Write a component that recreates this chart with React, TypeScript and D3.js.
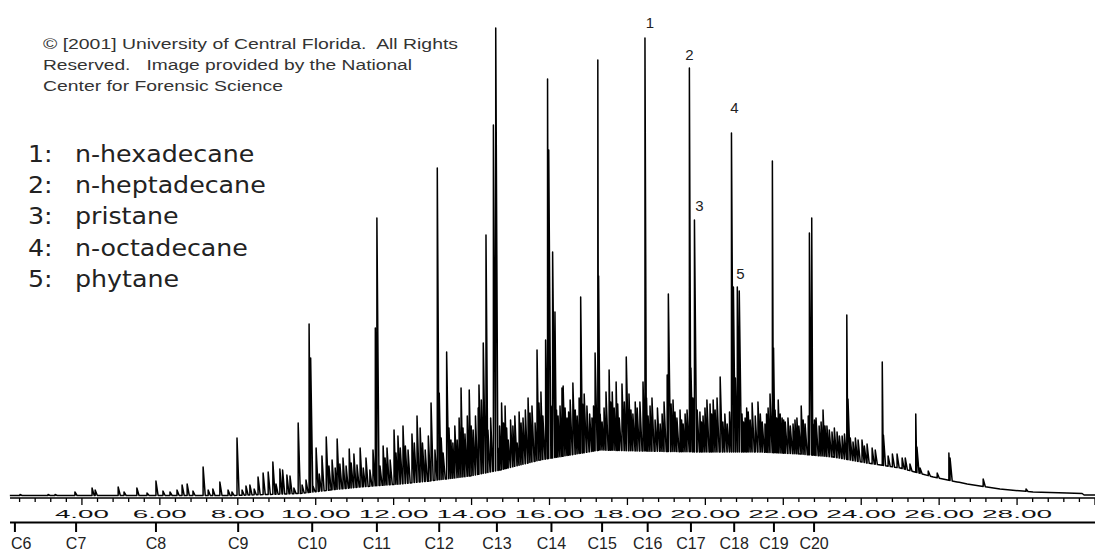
import React from "react";
import * as d3 from "d3";

const W = 1095;
const H = 552;

// detector baseline: retention time (min) and level
const baseTime = [2.15, 7.8, 8.31, 9.6, 10.37, 11.14, 12.16, 12.93, 13.96, 14.73, 15.76, 17.3, 18.32, 19.86, 21.4, 22.43, 23.28, 24.15, 25.0, 25.85, 26.72, 27.56, 28.41, 29.28, 29.67, 29.72, 30.0];
const baseLevel = [2.5, 2.5, 3, 4.5, 8, 11, 14, 17, 22, 28, 38, 48, 47, 46, 46, 44, 41, 35, 30, 21, 14, 9, 6, 5, 4.5, 3, 3];

// peaks: retention time (min) and apex abundance
const peakTime = [
  2.41, 3.13, 3.31, 3.82, 4.26, 4.34, 4.93, 5.08, 5.41, 5.67, 5.9, 6.08, 6.26, 6.44, 6.57, 6.7, 6.85, 7.11, 7.24, 7.36, 7.54, 7.75,
  7.85, 7.98, 8.11, 8.21, 8.31, 8.42, 8.52, 8.65, 8.78, 8.9, 8.98, 9.08, 9.15, 9.26, 9.34, 9.44, 9.55, 9.65, 9.75, 9.83, 9.87, 9.93,
  10.01, 10.09, 10.16, 10.27, 10.34, 10.42, 10.5, 10.55, 10.62, 10.7, 10.78, 10.86, 10.91, 10.98, 11.06, 11.14, 11.22, 11.29, 11.39,
  11.47, 11.53, 11.57, 11.65, 11.73, 11.78, 11.83, 11.91, 12.01, 12.06, 12.11, 12.17, 12.24, 12.3, 12.37, 12.47, 12.53, 12.6, 12.68,
  12.74, 12.81, 12.89, 12.96, 13.06, 13.12, 13.17, 13.22, 13.27, 13.36, 13.42, 13.47, 13.52, 13.57, 13.63, 13.68, 13.73, 13.78, 13.83,
  13.89, 13.94, 13.99, 14.04, 14.1, 14.17, 14.19, 14.25, 14.3, 14.37, 14.42, 14.49, 14.56, 14.62, 14.68, 14.72, 14.77, 14.82, 14.86,
  14.9, 14.94, 15.0, 15.06, 15.11, 15.17, 15.22, 15.27, 15.32, 15.38, 15.45, 15.5, 15.55, 15.63, 15.68, 15.73, 15.78, 15.83, 15.9,
  15.95, 15.98, 16.04, 16.08, 16.14, 16.18, 16.22, 16.27, 16.32, 16.35, 16.4, 16.45, 16.49, 16.53, 16.6, 16.66, 16.71, 16.76, 16.8,
  16.85, 16.89, 16.96, 17.03, 17.09, 17.13, 17.17, 17.24, 17.26, 17.3, 17.35, 17.4, 17.45, 17.53, 17.57, 17.61, 17.66, 17.71, 17.75,
  17.79, 17.86, 17.92, 17.97, 18.04, 18.09, 18.14, 18.2, 18.25, 18.32, 18.4, 18.45, 18.49, 18.53, 18.58, 18.63, 18.71, 18.77, 18.84,
  18.89, 18.94, 19.02, 19.05, 19.12, 19.17, 19.22, 19.27, 19.35, 19.39, 19.43, 19.48, 19.53, 19.59, 19.63, 19.68, 19.72, 19.79, 19.86,
  19.9, 19.94, 19.99, 20.04, 20.12, 20.16, 20.2, 20.25, 20.3, 20.38, 20.45, 20.5, 20.56, 20.62, 20.67, 20.72, 20.77, 20.82, 20.87,
  20.94, 20.98, 21.02, 21.06, 21.1, 21.15, 21.2, 21.28, 21.35, 21.41, 21.46, 21.53, 21.57, 21.61, 21.66, 21.72, 21.75, 21.79, 21.83,
  21.87, 21.92, 21.97, 22.01, 22.05, 22.12, 22.18, 22.25, 22.3, 22.35, 22.4, 22.46, 22.51, 22.56, 22.64, 22.67, 22.73, 22.76, 22.8,
  22.84, 22.92, 22.97, 23.02, 23.07, 23.12, 23.18, 23.25, 23.31, 23.38, 23.44, 23.51, 23.57, 23.63, 23.66, 23.72, 23.79, 23.85, 23.92,
  24.02, 24.08, 24.15, 24.28, 24.36, 24.54, 24.57, 24.69, 24.8, 24.92, 25.05, 25.13, 25.25, 25.4, 25.43, 25.51, 25.72, 25.95, 26.25,
  26.28, 26.46, 27.13, 28.23,
];
const peakApex = [
  3.5, 3.5, 3.5, 6, 10, 8, 11, 6, 10, 5, 17, 7, 6, 8, 13, 14, 7, 31, 8, 9, 16, 8,
  6, 60, 8, 12, 13, 9, 21, 25, 26, 36, 14, 29, 28, 23, 22, 10, 75, 13, 18, 174, 140, 12,
  50, 24, 42, 61, 32, 38, 30, 59, 34, 40, 32, 49, 35, 44, 33, 50, 30, 40, 28,
  48, 170, 280, 32, 52, 40, 50, 38, 68, 45, 62, 50, 72, 52, 48, 64, 55, 82, 70,
  55, 48, 62, 95, 48, 330, 105, 60, 45, 146, 70, 58, 55, 72, 58, 80, 110, 70, 64,
  82, 108, 72, 68, 82, 90, 113, 98, 155, 263, 68, 80, 373, 470, 50, 72, 95, 75, 92,
  70, 58, 78, 72, 82, 55, 86, 75, 80, 88, 100, 85, 92, 75, 148, 95, 106, 82, 158,
  419, 348, 92, 246, 186, 88, 82, 92, 110, 112, 90, 80, 86, 98, 115, 88, 82, 100, 201,
  94, 104, 92, 84, 80, 92, 145, 438, 222, 84, 76, 90, 106, 128, 96, 106, 90, 116, 94,
  80, 114, 96, 141, 104, 88, 84, 96, 90, 96, 116, 460, 100, 82, 92, 100, 78, 90, 74,
  84, 96, 123, 204, 94, 98, 86, 80, 88, 78, 74, 84, 88, 430, 130, 100, 278, 88, 86,
  76, 82, 90, 98, 94, 84, 98, 88, 100, 121, 76, 84, 74, 86, 365, 211, 120, 211, 207,
  84, 76, 80, 90, 86, 78, 95, 82, 96, 84, 76, 74, 84, 90, 104, 337, 150, 88, 80,
  98, 84, 80, 78, 76, 80, 72, 74, 78, 80, 72, 92, 78, 74, 82, 265, 280, 74, 78,
  80, 72, 76, 88, 72, 72, 68, 66, 70, 66, 62, 62, 64, 183, 99, 60, 56, 60, 58,
  58, 52, 54, 50, 48, 136, 63, 42, 44, 44, 40, 40, 34, 84, 51, 30, 27, 25, 45,
  40, 16, 19, 9,
];

const timeLabels = [4, 6, 8, 10, 12, 14, 16, 18, 20, 22, 24, 26, 28];
const carbonNames = ["C6", "C7", "C8", "C9", "C10", "C11", "C12", "C13", "C14", "C15", "C16", "C17", "C18", "C19", "C20"];
const carbonTime = [2.28, 3.85, 5.9, 8.01, 9.91, 11.57, 13.17, 14.65, 16.05, 17.35, 18.52, 19.63, 20.74, 21.76, 22.79];

const compoundNo = ["1", "2", "3", "4", "5"];
const compoundName = ["n-hexadecane", "n-heptadecane", "pristane", "n-octadecane", "phytane"];
const compoundTime = [18.45, 19.59, 19.72, 20.67, 20.82];

const credit = [
  "\u00a9 [2001] University of Central Florida.  All Rights",
  "Reserved.   Image provided by the National",
  "Center for Forensic Science",
];

const x = d3.scaleLinear().domain([2, 30]).range([4, 1095]);
const y = d3.scaleLinear().domain([0, 480]).range([498, 18]);
const base = d3.scaleLinear().domain(baseTime).range(baseLevel).clamp(true);

// each peak rises sharply and tails off for at most this long (min)
const TAIL = 0.055;

function tracePath() {
  const events: { t: number; pts: [number, number][] }[] = [];
  baseTime.forEach((t, i) => events.push({ t, pts: [[t, baseLevel[i]]] }));
  peakTime.forEach((t, i) => {
    const b = base(t);
    const top = Math.max(b, peakApex[i]);
    const next = i + 1 < peakTime.length ? peakTime[i + 1] : t + TAIL;
    const end = Math.min(t + TAIL, next - 0.004);
    events.push({ t, pts: [[t, b], [t, top], [end, base(end)]] });
  });
  events.sort((a, b) => a.t - b.t);
  const pts = events.flatMap((e) => e.pts);
  const line = d3.line<[number, number]>().x((d) => x(d[0])).y((d) => y(d[1]));
  return line(pts) || "";
}

// small nudges for the peak numbers
const labelDx = [5, 0, 5, 3, 3];
const labelDy = [10, 8, 9, 20, 8];

export default function App() {
  const trace = tracePath();
  const ticks = d3.range(2, 30.001, 0.4).filter((t) => x(t) > 9);
  const apexOf = (t: number) => peakApex[peakTime.indexOf(t)];

  return (
    <svg
      width={W}
      height={H}
      style={{ position: "absolute", left: 0, top: 0, background: "#fff" }}
    >
      {/* credit */}
      <g fontFamily="'Liberation Sans', Arial, sans-serif" fontSize={14} fill="#333">
        {credit.map((s, i) => (
          <text
            key={i}
            x={43}
            y={49 + i * 21}
            textLength={[415, 369, 240][i]}
            lengthAdjust="spacingAndGlyphs"
            style={{ whiteSpace: "pre" }}
          >
            {s}
          </text>
        ))}
      </g>

      {/* legend */}
      <g transform="translate(28,0) scale(1.1,1)" fontFamily="'DejaVu Sans', sans-serif" fontSize={23} fill="#222">
        {compoundName.map((n, i) => (
          <g key={n}>
            <text x={0} y={162 + i * 31.25}>{compoundNo[i] + ":"}</text>
            <text x={42.7} y={162 + i * 31.25}>{n}</text>
          </g>
        ))}
      </g>

      {/* chromatogram trace */}
      <path d={trace} fill="none" stroke="#000" strokeWidth={1.5} strokeLinejoin="round" />

      {/* peak numbers */}
      <g fontFamily="'Liberation Sans', Arial, sans-serif" fontSize={15} fill="#222" textAnchor="middle">
        {compoundTime.map((t, i) => (
          <text key={i} x={x(t) + labelDx[i]} y={y(apexOf(t)) - labelDy[i]}>
            {compoundNo[i]}
          </text>
        ))}
      </g>

      {/* time axis */}
      <line x1={10} x2={W} y1={498} y2={498} stroke="#000" strokeWidth={1.4} />
      {ticks.map((t, i) => {
        const major = Math.abs(t - Math.round(t)) < 1e-6 && Math.round(t) % 2 === 0;
        return (
          <line key={i} x1={x(t)} x2={x(t)} y1={498} y2={major ? 505 : 502} stroke="#000" strokeWidth={1.3} />
        );
      })}
      <g fontFamily="'Liberation Sans', Arial, sans-serif" fontSize={11} fill="#111" textAnchor="middle">
        {timeLabels.map((t) => {
          const s = t.toFixed(2);
          return (
            <text key={t} x={x(t)} y={517.5} textLength={s.length === 4 ? 54 : 70} lengthAdjust="spacingAndGlyphs">
              {s}
            </text>
          );
        })}
      </g>

      {/* carbon number axis */}
      <line x1={10} x2={W} y1={522.5} y2={522.5} stroke="#000" strokeWidth={2} />
      {carbonTime.map((t, i) => (
        <line key={i} x1={x(t)} x2={x(t)} y1={523} y2={532} stroke="#000" strokeWidth={2} />
      ))}
      <g fontFamily="'Liberation Sans', Arial, sans-serif" fontSize={16} fill="#222">
        {carbonNames.map((c, i) => (
          <text
            key={c}
            x={i === 0 ? x(carbonTime[i]) - 4 : x(carbonTime[i])}
            y={549}
            textAnchor={i === 0 ? "start" : "middle"}
          >
            {c}
          </text>
        ))}
      </g>
    </svg>
  );
}
